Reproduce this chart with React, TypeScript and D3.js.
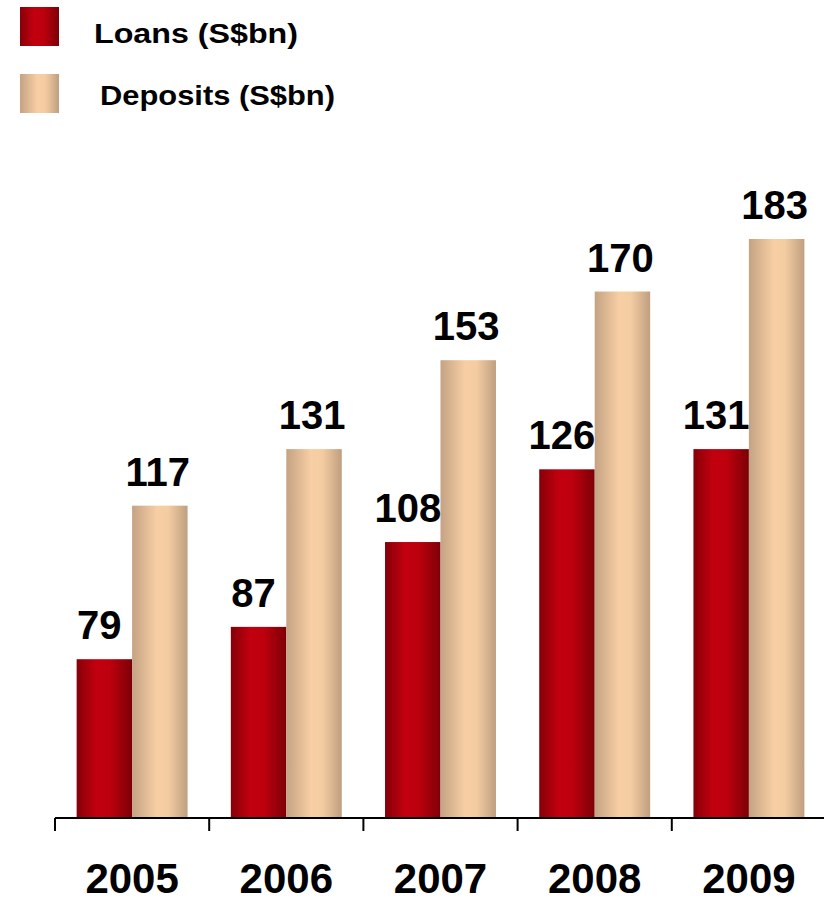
import React from "react";
import * as d3 from "d3";

const years = ["2005", "2006", "2007", "2008", "2009"];
const loans = [79, 87, 108, 126, 131];
const deposits = [117, 131, 153, 170, 183];
const seriesNames = ["Loans (S$bn)", "Deposits (S$bn)"];

const W = 824;
const H = 897;

export default function App() {
  const x = d3.scaleBand<string>().domain(years).range([55, 826]).paddingInner(0).paddingOuter(0);
  const inner = d3
    .scaleBand<string>()
    .domain(["loans", "deposits"])
    .range([0, x.bandwidth()])
    .paddingOuter(0.39)
    .paddingInner(0);
  const y = d3.scaleLinear().domain([39.7, 183]).range([818, 239]);
  const baseY = 818;
  const font = "'Liberation Sans', Arial, Helvetica, sans-serif";

  const series = [
    { key: "loans", values: loans, fill: "url(#gradLoans)", dx: -5 },
    { key: "deposits", values: deposits, fill: "url(#gradDeposits)", dx: -2 },
  ];

  const ticks = [...years.map((yr) => x(yr) as number), 826];
  const bw = inner.bandwidth();

  return (
    <svg width={W} height={H} style={{ position: "absolute", left: 0, top: 0 }}>
      <defs>
        <linearGradient id="gradLoans" x1="0" x2="1" y1="0" y2="0">
          <stop offset="0" stopColor="#850008" />
          <stop offset="0.35" stopColor="#c2000f" />
          <stop offset="0.6" stopColor="#bd000e" />
          <stop offset="1" stopColor="#7c0006" />
        </linearGradient>
        <linearGradient id="gradDeposits" x1="0" x2="1" y1="0" y2="0">
          <stop offset="0" stopColor="#c4a283" />
          <stop offset="0.45" stopColor="#f8cfa5" />
          <stop offset="0.65" stopColor="#f4cca2" />
          <stop offset="1" stopColor="#bf9f80" />
        </linearGradient>
      </defs>

      {/* Legend */}
      <rect x={20} y={7} width={39} height={39} fill="url(#gradLoans)" />
      <text x={94} y={42.5} fontFamily={font} fontWeight="bold" fontSize={28} textLength={204} lengthAdjust="spacingAndGlyphs" fill="#000">
        {seriesNames[0]}
      </text>
      <rect x={20} y={74} width={39} height={39} fill="url(#gradDeposits)" />
      <text x={100} y={105} fontFamily={font} fontWeight="bold" fontSize={28} textLength={235} lengthAdjust="spacingAndGlyphs" fill="#000">
        {seriesNames[1]}
      </text>

      {/* Bars */}
      {years.map((yr, i) =>
        series.map((s) => {
          const bx = (x(yr) as number) + (inner(s.key) as number);
          const top = y(s.values[i]);
          return <rect key={yr + s.key} x={bx} y={top} width={bw} height={baseY - top} fill={s.fill} />;
        })
      )}

      {/* Value labels */}
      {years.map((yr, i) =>
        series.map((s) => {
          const bx = (x(yr) as number) + (inner(s.key) as number);
          const v = s.values[i];
          const top = y(v);
          return (
            <text
              key={"l" + yr + s.key}
              x={bx + bw / 2 + s.dx}
              y={top - 20}
              textAnchor="middle"
              fontFamily={font}
              fontWeight="bold"
              fontSize={40}
              fill="#000"
            >
              {v}
            </text>
          );
        })
      )}

      {/* Axis */}
      <line x1={55} x2={W} y1={baseY} y2={baseY} stroke="#000" strokeWidth={2} />
      {ticks.map((t, i) => (
        <line key={i} x1={t} x2={t} y1={baseY} y2={831} stroke="#000" strokeWidth={2} />
      ))}
      {years.map((yr) => (
        <text
          key={yr}
          x={(x(yr) as number) + x.bandwidth() / 2}
          y={893}
          textAnchor="middle"
          fontFamily={font}
          fontWeight="bold"
          fontSize={42}
          fill="#000"
        >
          {yr}
        </text>
      ))}
    </svg>
  );
}
